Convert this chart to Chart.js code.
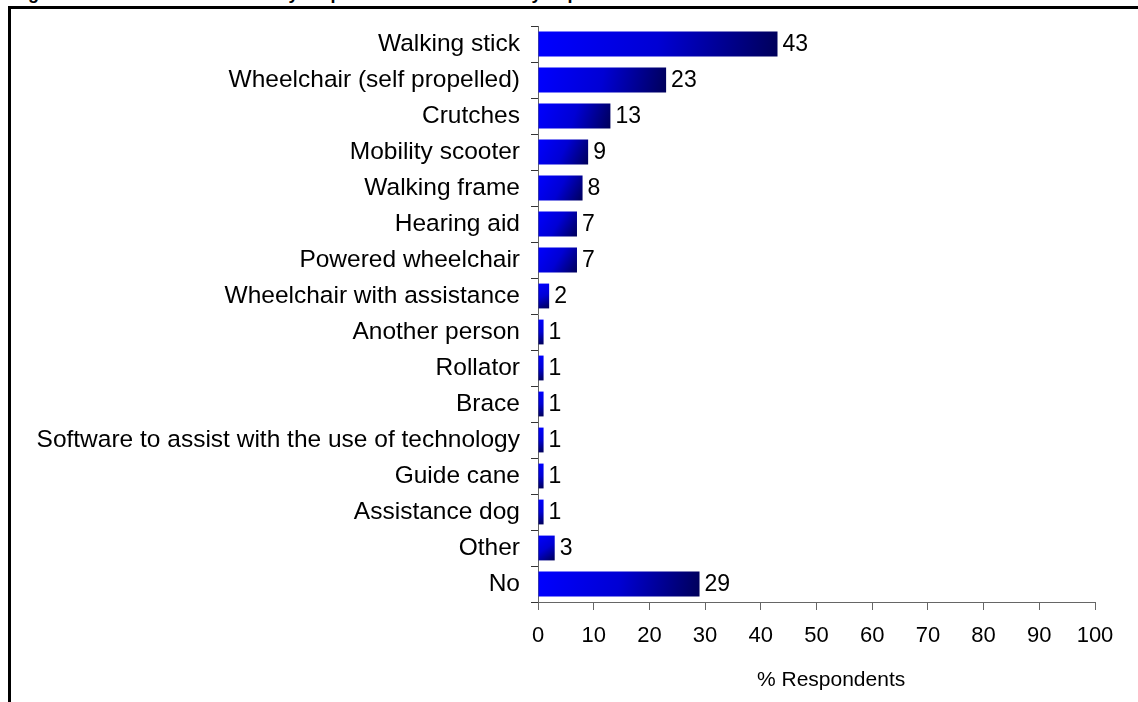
<!DOCTYPE html>
<html>
<head>
<meta charset="utf-8">
<script src="https://cdn.jsdelivr.net/npm/chart.js@4/dist/chart.umd.min.js"></script>
<style>
  html, body { margin: 0; padding: 0; background: #fff; overflow: hidden; }
  #caption {
    position: absolute; left: 12px; top: -17px;
    font: bold 18px "Liberation Sans", Arial, sans-serif; color: #000; white-space: nowrap;
  }
  #frame {
    position: absolute; left: 8px; top: 6px; width: 1200px; height: 800px;
    border: 3px solid #000; box-sizing: border-box;
  }
  #wrap { position: absolute; left: 0; top: 0; width: 1138px; height: 702px; }
</style>
</head>
<body>
<div id="caption">Figure 6: Aids or devices used by respondents with a mobility impairment or condition</div>
<div id="frame"></div>
<div id="wrap"><canvas id="chart"></canvas></div>
<script>
// Data
const categories = [
  'Walking stick', 'Wheelchair (self propelled)', 'Crutches', 'Mobility scooter',
  'Walking frame', 'Hearing aid', 'Powered wheelchair', 'Wheelchair with assistance',
  'Another person', 'Rollator', 'Brace', 'Software to assist with the use of technology',
  'Guide cane', 'Assistance dog', 'Other', 'No'
];
const percentages = [43, 23, 13, 9, 8, 7, 7, 2, 1, 1, 1, 1, 1, 1, 3, 29];
const xTicks = [0, 10, 20, 30, 40, 50, 60, 70, 80, 90, 100];

const FONT = '"Liberation Sans", Arial, sans-serif';

// Per-bar diagonal gradient: bright blue top-left to navy bottom-right
const barGradient = (context) => {
  const chart = context.chart;
  const xs = chart.scales.x, ys = chart.scales.y;
  if (!xs || !ys || context.dataIndex === undefined) return '#0000ff';
  const x0 = xs.getPixelForValue(0);
  const x1 = xs.getPixelForValue(context.raw);
  const yc = ys.getPixelForValue(context.dataIndex);
  if (![x0, x1, yc].every(Number.isFinite) || x1 <= x0) return '#0000ff';
  const g = chart.ctx.createLinearGradient(x0, yc - 12, x1, yc + 12);
  g.addColorStop(0, '#0000ff');
  g.addColorStop(0.5, '#0000d4');
  g.addColorStop(1, '#00005a');
  return g;
};

// Value labels to the right of each bar
const valueLabels = {
  id: 'valueLabels',
  afterDatasetsDraw(chart) {
    const ctx = chart.ctx;
    const meta = chart.getDatasetMeta(0);
    ctx.save();
    ctx.font = '23px ' + FONT;
    ctx.fillStyle = '#000';
    ctx.textAlign = 'left';
    ctx.textBaseline = 'middle';
    meta.data.forEach((bar, i) => {
      ctx.fillText(String(percentages[i]), bar.x + 5, bar.y + 1);
    });
    ctx.restore();
  }
};

new Chart(document.getElementById('chart'), {
  type: 'bar',
  data: {
    labels: categories,
    datasets: [{
      data: percentages,
      backgroundColor: barGradient,
      borderWidth: 0,
      barPercentage: 0.69,
      categoryPercentage: 1
    }]
  },
  options: {
    indexAxis: 'y',
    responsive: true,
    maintainAspectRatio: false,
    animation: false,
    layout: { padding: { top: 26, right: 43, left: 0, bottom: 0 } },
    plugins: {
      legend: { display: false },
      tooltip: { enabled: false }
    },
    scales: {
      x: {
        min: 0,
        max: 100,
        afterBuildTicks: (scale) => { scale.ticks = xTicks.map(v => ({ value: v })); },
        afterFit: (scale) => { scale.height = 100; },
        grid: { drawOnChartArea: false, tickLength: 8, color: '#666', tickColor: '#666' },
        border: { color: '#666', width: 1 },
        ticks: { color: '#000', font: { family: FONT, size: 22 }, padding: 13, maxRotation: 0 },
        title: {
          display: true, text: '\u00a0\u00a0\u00a0\u00a0\u00a0% Respondents', color: '#000',
          font: { family: FONT, size: 21 }, padding: { top: 0, bottom: 9 }
        }
      },
      y: {
        afterFit: (scale) => { scale.width = 538; },
        grid: { drawOnChartArea: false, offset: true, tickLength: 7, color: '#333', tickColor: '#333' },
        border: { color: '#666', width: 1 },
        ticks: { color: '#000', font: { family: FONT, size: 24.5 }, padding: 11, autoSkip: false }
      }
    }
  },
  plugins: [valueLabels]
});
</script>
</body>
</html>
